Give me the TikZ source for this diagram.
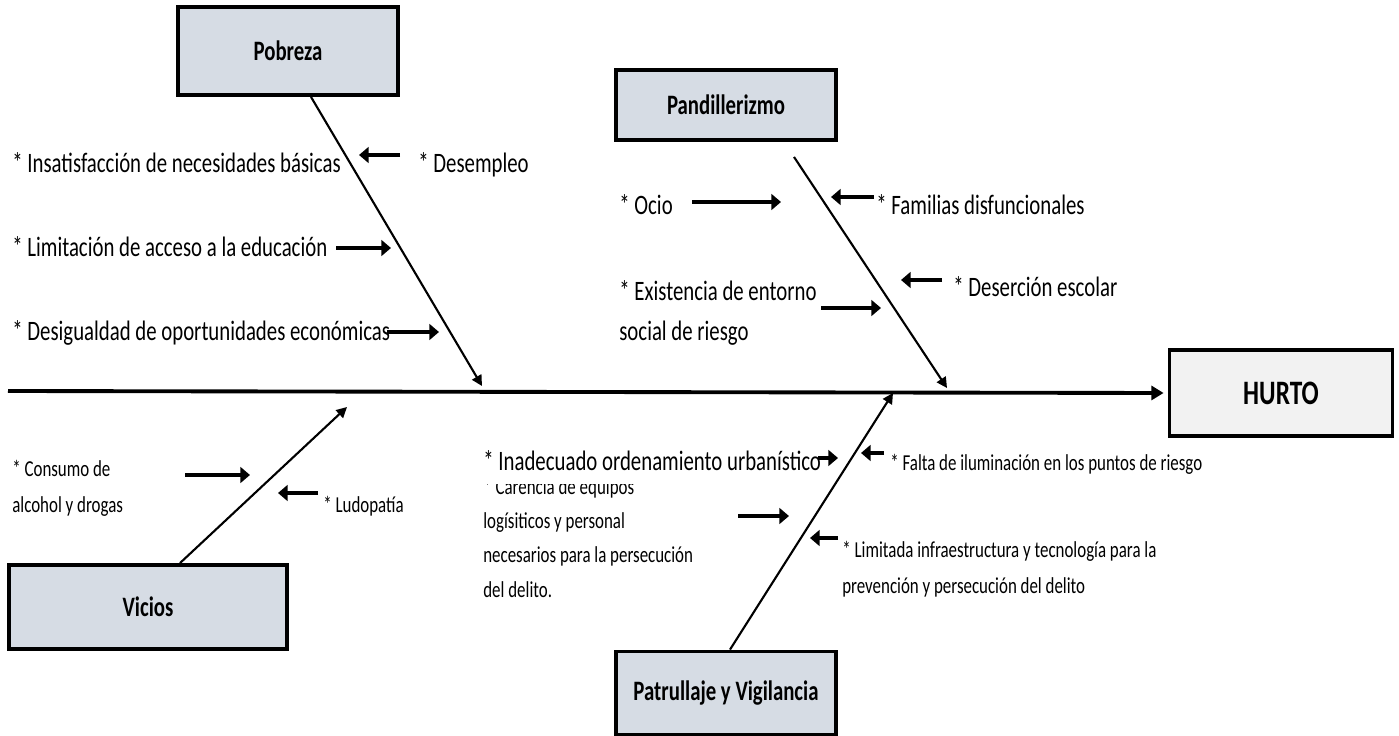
\documentclass[tikz,border=0pt]{standalone}
\usepackage{fontspec}
\setmainfont{Carlito}[FakeStretch=0.74]
\usepackage{xcolor}
\usetikzlibrary{arrows.meta}
\definecolor{cajagris}{HTML}{D6DCE4}
\definecolor{cajaclara}{HTML}{F2F2F2}
\begin{document}
\begin{tikzpicture}[x=0.02cm, y=-0.02cm,
  causa/.style={draw, line width=2.2pt, fill=cajagris, inner sep=0pt,
                font=\fontsize{16}{20}\selectfont\bfseries},
  efecto/.style={causa, fill=cajaclara, font=\fontsize{19.5}{24}\selectfont\bfseries},
  txtg/.style={anchor=base west, inner sep=0pt, align=left,
               font=\fontsize{16}{22.5}\selectfont},
  txtp/.style={txtg, font=\fontsize{13}{20}\selectfont},
  espina/.style={-{Triangle[length=7pt,width=8pt]}, line width=2.2pt},
  rama/.style={-{Triangle[length=6pt,width=6pt]}, line width=1.2pt},
  flecha/.style={-{Triangle[length=5.5pt,width=9pt]}, line width=1.8pt}]

  \useasboundingbox (0,0) rectangle (1399,736);

  % Cause boxes and effect box
  \node[causa, minimum width=4.4cm, minimum height=1.76cm] (pob) at (288,51) {Pobreza};
  \node[causa, minimum width=4.4cm, minimum height=1.4cm] (pand) at (726,105) {Pandillerizmo};
  \node[causa, minimum width=5.56cm, minimum height=1.68cm] (vic) at (148,607) {Vicios};
  \node[causa, minimum width=4.4cm, minimum height=1.66cm] (patr) at (726,693) {Patrullaje y Vigilancia};
  \node[efecto, minimum width=4.46cm, minimum height=1.72cm] (hurto) at (1281,393) {HURTO};

  % Spine and branches
  \coordinate (ini) at (8,391);
  \coordinate (pobFin) at (482,386);
  \coordinate (pandFin) at (947,388);
  \coordinate (vicFin) at (347,407);
  \coordinate (patrFin) at (893,393);

  \draw[espina] (ini) -- ([xshift=-0.08cm]hurto.west);
  \draw[rama] ([xshift=0.46cm]pob.south) -- (pobFin);
  \draw[rama] ([xshift=1.36cm, yshift=-0.3cm]pand.south) -- (pandFin);
  \draw[rama] ([xshift=0.64cm]vic.north) -- (vicFin);
  \draw[rama] ([xshift=0.08cm]patr.north) -- (patrFin);

  % Pobreza
  \node[txtg] (insat) at (12,173) {* Insatisfacción de necesidades básicas};
  \node[txtg] (desem) at (418,173) {* Desempleo};
  \node[txtg] (limit) at (12,257) {* Limitación de acceso a la educación};
  \node[txtg] (desig) at (12,340) {* Desigualdad de oportunidades económicas};

  % Pandillerizmo (multi-line texts sit on their last baseline)
  \node[txtg] (ocio) at (619,215) {* Ocio};
  \node[txtg] (famil) at (876,215) {* Familias disfuncionales};
  \node[txtg] (exist) at (619,340) {* Existencia de entorno\\social de riesgo};
  \node[txtg] (deser) at (953,297) {* Deserción escolar};

  % Vicios
  \node[txtp] (consu) at (12,512) {* Consumo de\\alcohol y drogas};
  \node[txtp] (ludo) at (323,512) {* Ludopatía};

  % Patrullaje y Vigilancia
  \node[txtp, font=\fontsize{13}{19.5}\selectfont] (caren) at (483,597)
    {* Carencia de equipos\\logísiticos y personal\\necesarios para la persecución\\del delito.};
  \node[txtg, fill=white, inner ysep=0.27cm] (inade) at (483,470) {* Inadecuado ordenamiento urbanístico};
  \node[txtp] (falta) at (890,470) {* Falta de iluminación en los puntos de riesgo};
  \node[txtp] (limtd) at (842,593) {* Limitada infraestructura y tecnología para la\\prevención y persecución del delito};

  % Small cause arrows
  \coordinate (a1) at (400,155); \coordinate (b1) at (359,155);
  \coordinate (a2) at (336,248); \coordinate (b2) at (391,248);
  \coordinate (a3) at (387,332); \coordinate (b3) at (439,332);
  \coordinate (a4) at (692,202); \coordinate (b4) at (781,202);
  \coordinate (a5) at (874,197); \coordinate (b5) at (831,197);
  \coordinate (a6) at (821,308); \coordinate (b6) at (881,308);
  \coordinate (a7) at (942,280); \coordinate (b7) at (901,280);
  \coordinate (a8) at (185,475); \coordinate (b8) at (250,475);
  \coordinate (a9) at (318,493); \coordinate (b9) at (278,493);
  \coordinate (a10) at (818,458); \coordinate (b10) at (838,458);
  \coordinate (a11) at (884,453); \coordinate (b11) at (861,453);
  \coordinate (a12) at (738,516); \coordinate (b12) at (789,516);
  \coordinate (a13) at (838,538); \coordinate (b13) at (810,538);

  \draw[flecha] (a1) -- (b1);
  \draw[flecha] (a2) -- (b2);
  \draw[flecha] (a3) -- (b3);
  \draw[flecha] (a4) -- (b4);
  \draw[flecha] (a5) -- (b5);
  \draw[flecha] (a6) -- (b6);
  \draw[flecha] (a7) -- (b7);
  \draw[flecha] (a8) -- (b8);
  \draw[flecha] (a9) -- (b9);
  \draw[flecha] (a10) -- (b10);
  \draw[flecha] (a11) -- (b11);
  \draw[flecha] (a12) -- (b12);
  \draw[flecha] (a13) -- (b13);
\end{tikzpicture}
\end{document}
